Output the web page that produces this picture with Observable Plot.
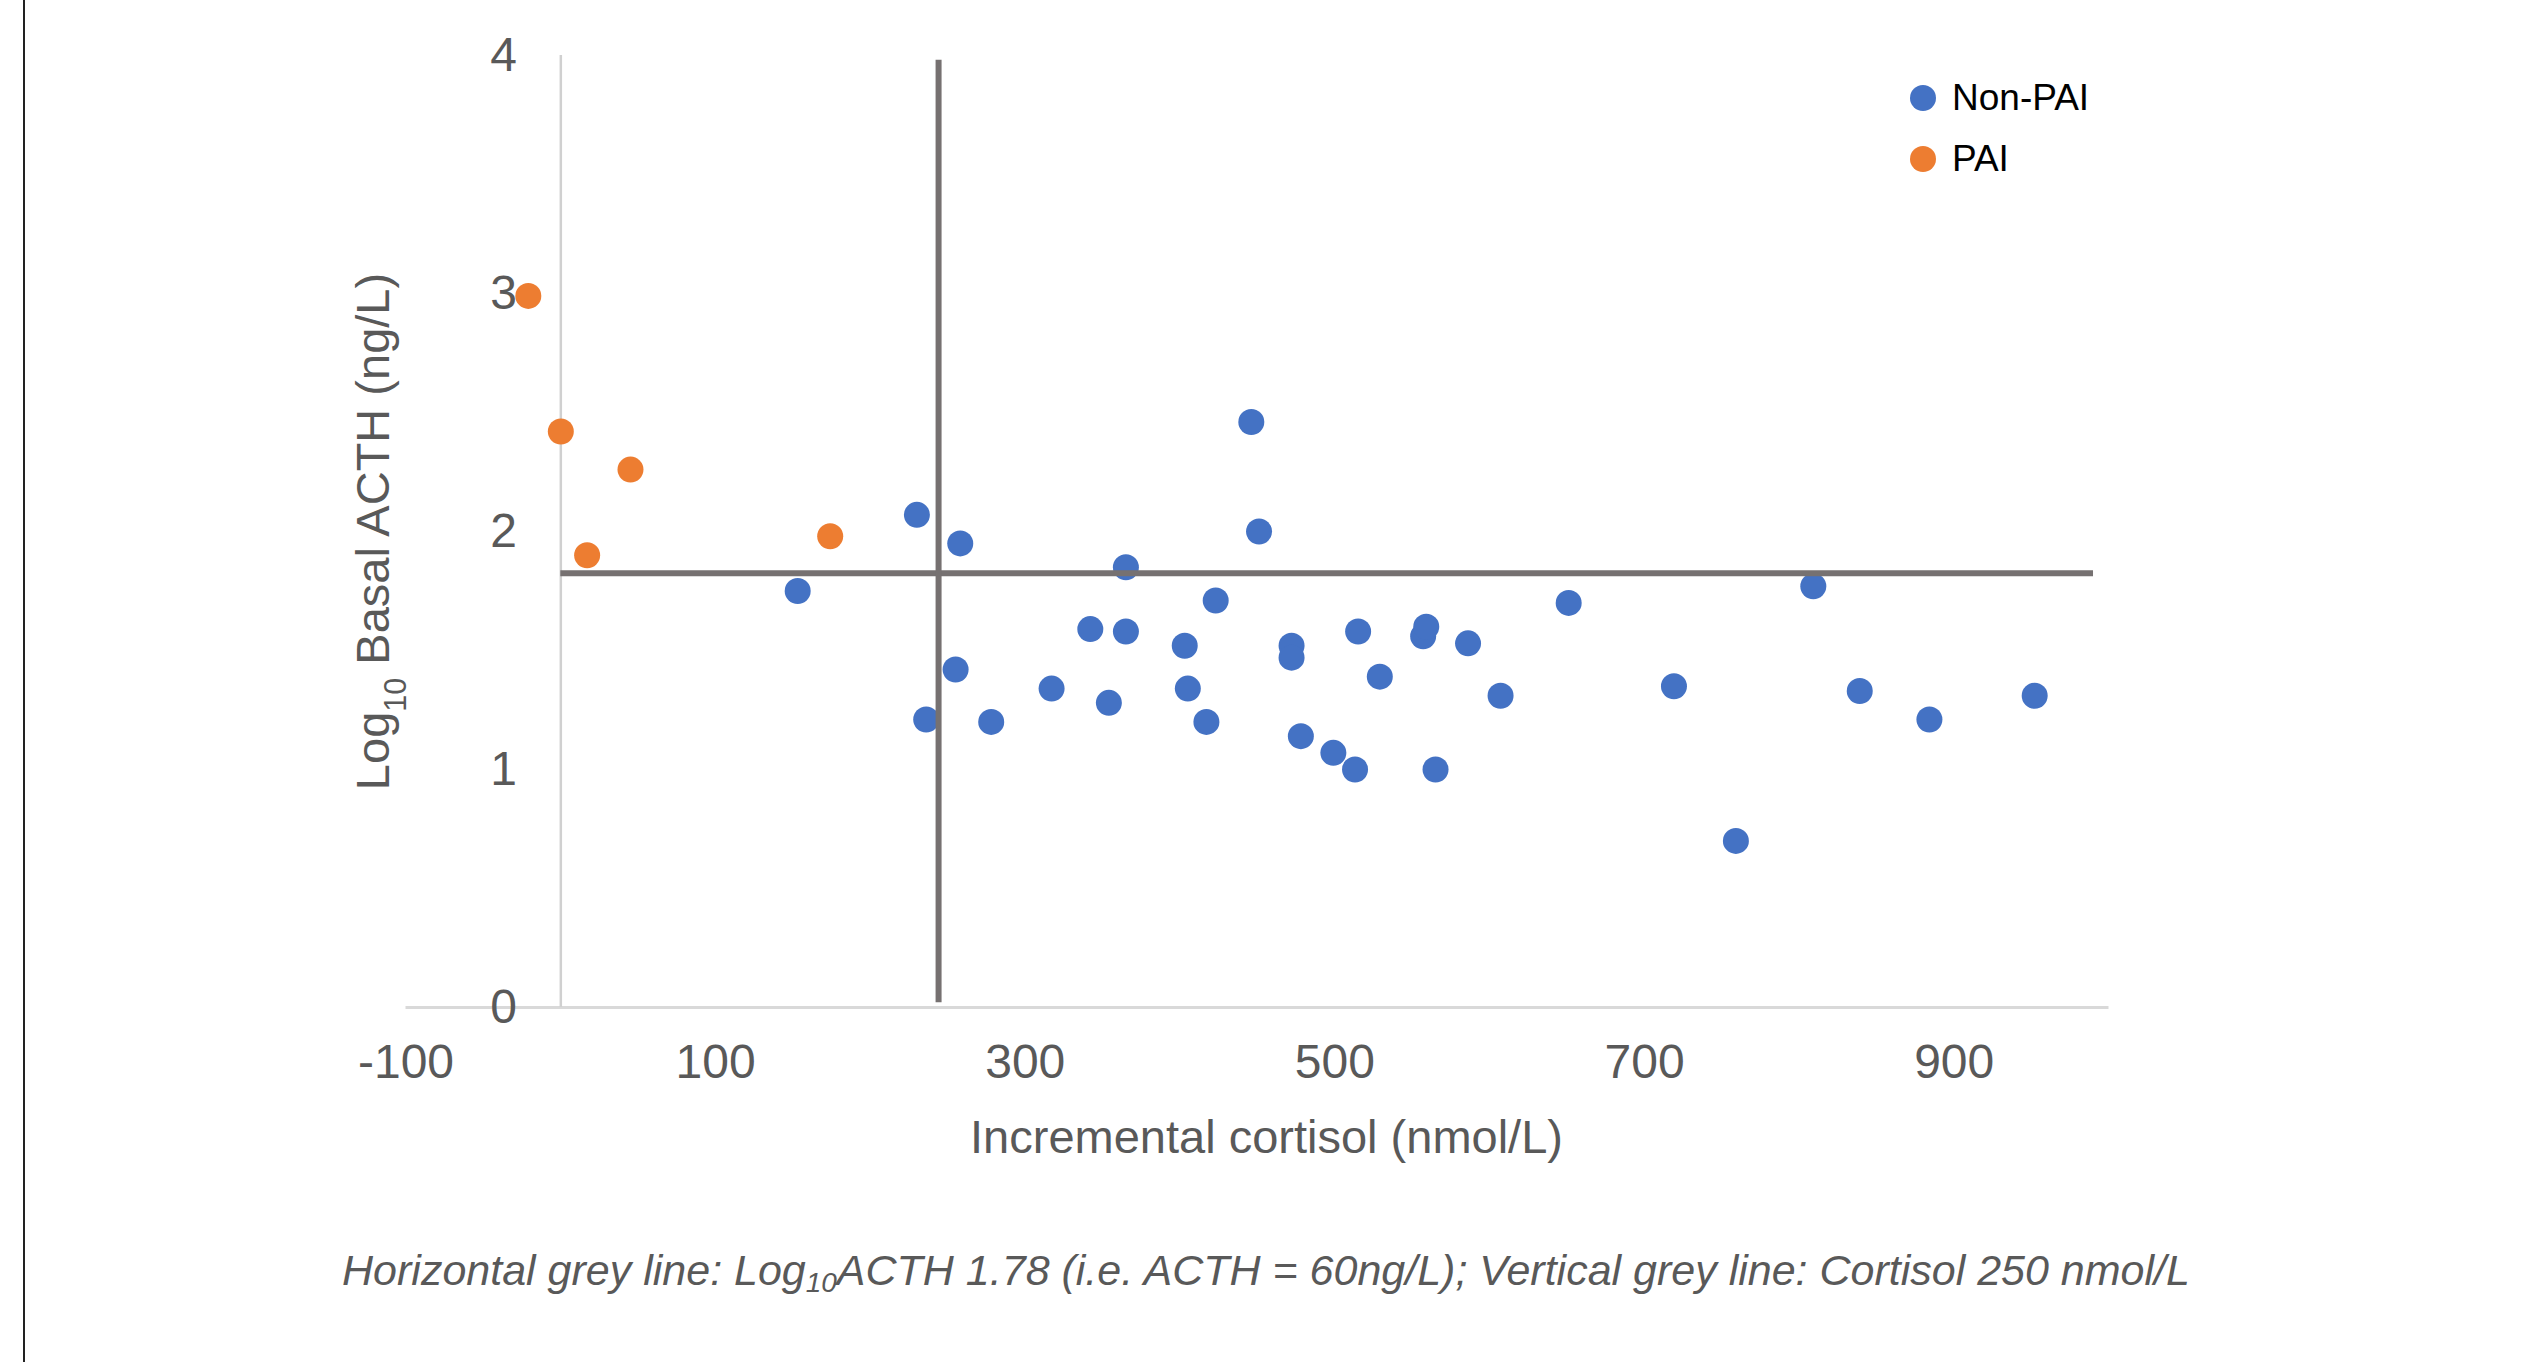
<!DOCTYPE html>
<html>
<head>
<meta charset="utf-8">
<script src="https://cdn.jsdelivr.net/npm/d3@7"></script>
<script src="https://cdn.jsdelivr.net/npm/@observablehq/plot@0.6"></script>
<style>
  html, body { margin: 0; padding: 0; background: #fff; }
  #wrap { position: relative; width: 2522px; height: 1362px; overflow: hidden; font-family: "Liberation Sans", Arial, Helvetica, sans-serif; }
  #border { position: absolute; left: 23px; top: 0; width: 2px; height: 1362px; background: #222; }
  #chart { position: absolute; left: 0; top: 0; }
  #legend { position: absolute; left: 1910px; top: 67px; font-size: 37px; color: #000; }
  #legend .item { display: flex; align-items: center; height: 61px; }
  #legend .sw { width: 26px; height: 26px; border-radius: 50%; margin-right: 16px; }
  #caption { position: absolute; left: 1266px; top: 1249px; transform: translateX(-50%); white-space: nowrap; font-size: 43px; line-height: 1; font-style: italic; color: #595959; }
  #caption sub { font-size: 65%; vertical-align: -0.25em; line-height: 0; }
</style>
</head>
<body>
<div id="wrap">
  <div id="border"></div>
  <div id="chart"></div>
  <div id="legend"></div>
  <div id="caption">Horizontal grey line: Log<sub>10</sub>ACTH 1.78 (i.e. ACTH = 60ng/L); Vertical grey line: Cortisol 250 nmol/L</div>
</div>
<script>
// ---- data ----
const seriesNames = ["Non-PAI", "PAI"];
const seriesColors = ["#4472C4", "#ED7D31"];

const nonPaiX = [153, 230, 258, 255, 236, 278, 317, 342, 354, 365, 365, 403, 405, 417, 423, 446, 451, 472, 472, 478, 499, 513, 515, 529, 557, 559, 565, 586, 607, 651, 719, 759, 809, 839, 884, 952];
const nonPaiY = [1.75, 2.07, 1.95, 1.42, 1.21, 1.20, 1.34, 1.59, 1.28, 1.85, 1.58, 1.52, 1.34, 1.20, 1.71, 2.46, 2.00, 1.52, 1.47, 1.14, 1.07, 1.00, 1.58, 1.39, 1.56, 1.60, 1.00, 1.53, 1.31, 1.70, 1.35, 0.70, 1.77, 1.33, 1.21, 1.31];

const paiX = [-21, 0, 17, 45, 174];
const paiY = [2.99, 2.42, 1.90, 2.26, 1.98];

const xTicks = [-100, 100, 300, 500, 700, 900];
const yTicks = [0, 1, 2, 3, 4];
const xDomain = [-100, 1000];
const yDomain = [0, 4];

// threshold lines as drawn in the picture
const hLine = {y: 1.825, x1: 0, x2: 990};
const vLine = {x: 244, y1: 0.02, y2: 3.98};

const xTitle = "Incremental cortisol (nmol/L)";
const yTitle = "Log10 Basal ACTH (ng/L)";

// ---- build tables ----
const nonPai = nonPaiX.map((x, i) => ({x, y: nonPaiY[i]}));
const pai = paiX.map((x, i) => ({x, y: paiY[i]}));

const grid = "#d9d9d9";
const thresh = "#767171";
const textGrey = "#595959";

const chart = Plot.plot({
  width: 2522,
  height: 1200,
  marginLeft: 405.5,
  marginRight: 413.5,
  marginTop: 55,
  marginBottom: 193,
  x: {domain: xDomain},
  y: {domain: yDomain},
  style: {fontFamily: "'Liberation Sans', Arial, Helvetica, sans-serif", background: "transparent", overflow: "visible"},
  marks: [
    Plot.ruleY([yDomain[0]], {x1: xDomain[0], x2: xDomain[1], stroke: grid, strokeWidth: 3}),
    Plot.ruleX([0], {y1: yDomain[0], y2: yDomain[1], stroke: "#d0d0d0", strokeWidth: 2.5}),
    Plot.dot(nonPai, {x: "x", y: "y", r: 13, fill: seriesColors[0], stroke: "none"}),
    Plot.dot(pai, {x: "x", y: "y", r: 13, fill: seriesColors[1], stroke: "none"}),
    Plot.ruleY([hLine], {y: "y", x1: "x1", x2: "x2", stroke: thresh, strokeWidth: 6}),
    Plot.ruleX([vLine], {x: "x", y1: "y1", y2: "y2", stroke: thresh, strokeWidth: 6}),
    Plot.axisX({ticks: xTicks, tickFormat: d => String(d), tickSize: 0, tickPadding: 36, fontSize: 48, color: textGrey,
      label: xTitle, labelAnchor: "center", labelOffset: 145, labelArrow: "none"}),
    Plot.axisY({ticks: yTicks, tickFormat: d => String(d), tickSize: 0, tickPadding: -111, fontSize: 48, color: textGrey,
      label: yTitle, labelAnchor: "center", labelOffset: 50, labelArrow: "none"})
  ]
});
document.getElementById("chart").appendChild(chart);

// style axis titles (size, subscript)
const xl = chart.querySelector('[aria-label="x-axis label"] text');
if (xl) { xl.setAttribute("font-size", 47); xl.setAttribute("dx", 9); xl.textContent = xTitle; }
const yl = chart.querySelector('[aria-label="y-axis label"] text');
if (yl) {
  yl.setAttribute("font-size", 47);
  const y = d3.select(yl);
  y.text(null);
  y.append("tspan").text("Log");
  y.append("tspan").attr("font-size", "65%").attr("baseline-shift", "sub").text("10");
  y.append("tspan").text(" Basal ACTH (ng/L)");
}

// legend
const lg = d3.select("#legend");
seriesNames.forEach((n, i) => {
  const it = lg.append("div").attr("class", "item");
  it.append("div").attr("class", "sw").style("background", seriesColors[i]);
  it.append("span").text(n);
});
</script>
</body>
</html>
